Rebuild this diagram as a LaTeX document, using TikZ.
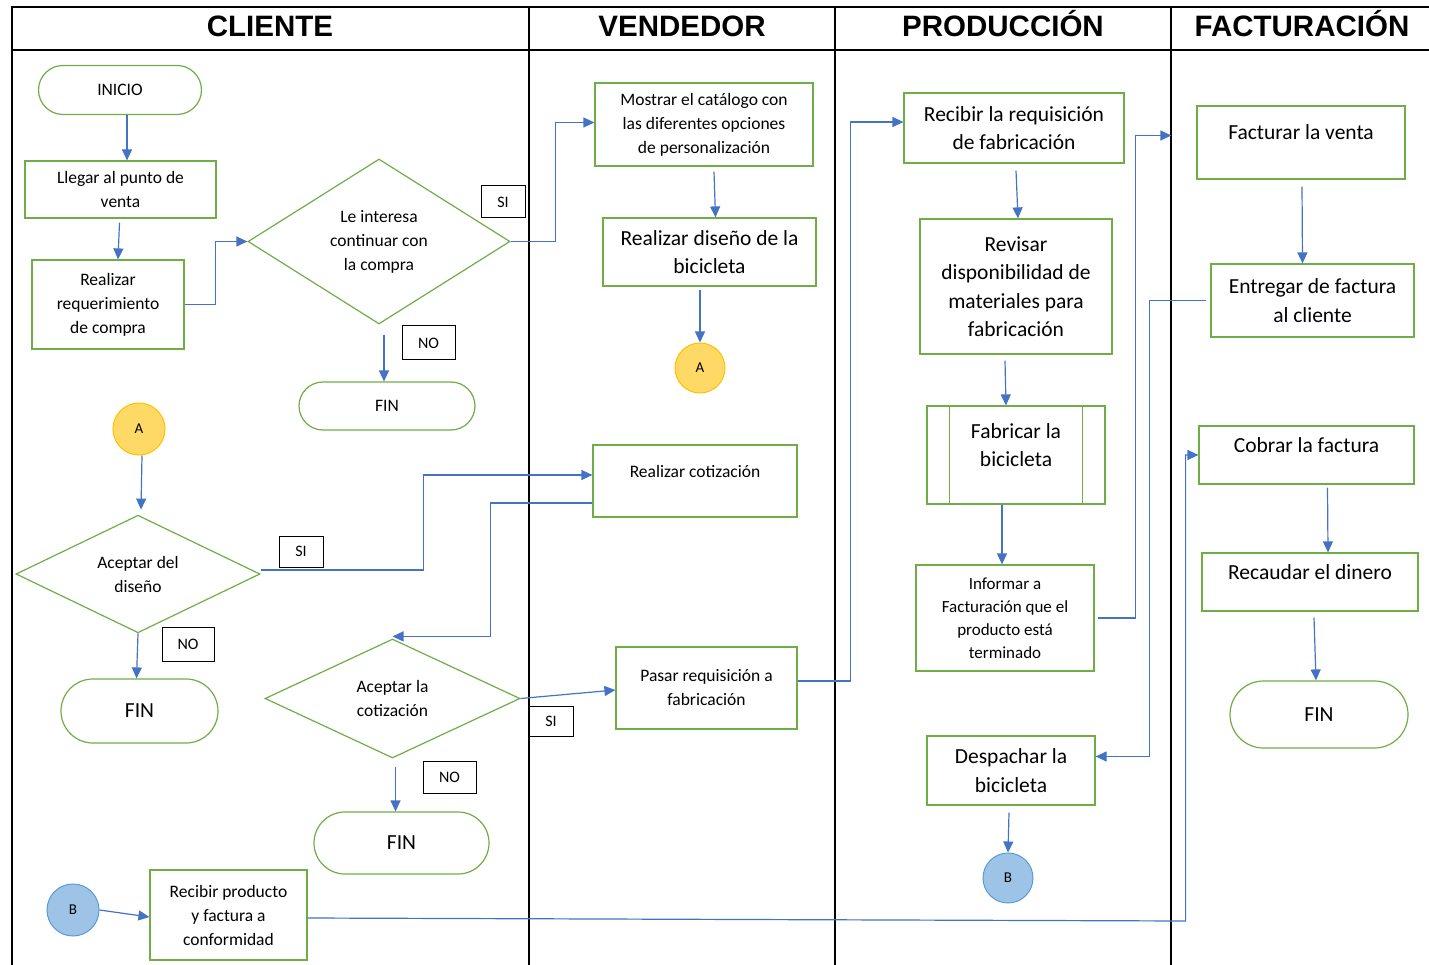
\documentclass[tikz,border=0pt]{standalone}
\usepackage{fontspec}
\setmainfont{Carlito}
\newfontfamily\laneFont{Liberation Sans}
\usetikzlibrary{shapes.geometric,shapes.misc,arrows.meta}
\definecolor{flowGreen}{RGB}{112,173,71}
\definecolor{flowBlue}{RGB}{68,114,196}
\definecolor{pageA}{RGB}{255,217,102}
\definecolor{pageAEdge}{RGB}{255,192,0}
\definecolor{pageB}{RGB}{157,195,230}
\definecolor{pageBEdge}{RGB}{91,155,213}

\begin{document}
\begin{tikzpicture}
% Swimlane flowchart, laid out in pixel units
\def\pxsz{1pt}
\providecommand{\laneLineWidth}{1.2pt}
\providecommand{\boxLineWidth}{1.2pt}
\providecommand{\smallTxt}{\fontsize{17.5}{24}\selectfont}
\providecommand{\bigTxt}{\fontsize{21.5}{28.5}\selectfont}
\begin{scope}[x=\pxsz, y=-\pxsz, line join=miter,
  lanehead/.style={anchor=base, font=\laneFont\bfseries\fontsize{29.5}{30}\selectfont},
  procbox/.style={draw=flowGreen, line width=\boxLineWidth, align=center, inner sep=0pt, font=\smallTxt},
  termbox/.style={procbox, shape=rounded rectangle},
  decbox/.style={procbox, shape=diamond},
  onpage/.style={circle, inner sep=0pt, line width=1pt, font=\fontsize{15}{16}\selectfont},
  tagbox/.style={draw=black, line width=1pt, inner sep=0pt, font=\fontsize{16}{17}\selectfont},
  raised/.style={text depth=20pt},
  flow/.style={draw=flowBlue, line width=1.2pt, -{Triangle[length=11pt,width=10pt]}}]
  \useasboundingbox (0,0) rectangle (1429,965);
  % Lanes
  \draw[line width=\laneLineWidth] (1429,7) -- (12,7) -- (12,965);
  \draw[line width=\laneLineWidth] (12,50) -- (1429,50);
  \foreach \lx in {529,835,1171}
    \draw[line width=\laneLineWidth] (\lx,7) -- (\lx,965);
  \node[lanehead] (hcli) at (270,37) {CLIENTE};
  \node[lanehead] (hven) at (682,37) {VENDEDOR};
  \node[lanehead] (hpro) at (1003,37) {PRODUCCIÓN};
  \node[lanehead] (hfac) at (1302,37) {FACTURACIÓN};

  % Cliente
  \node[termbox, minimum width=163pt, minimum height=49pt] (inicio) at (120,90) {INICIO};
  \node[procbox, minimum width=191pt, minimum height=57pt] (llegar) at (120.5,189.5) {Llegar al punto de\\venta};
  \node[procbox, minimum width=152pt, minimum height=89pt] (reqcompra) at (108,304.5) {Realizar\\requerimiento\\de compra};
  \node[decbox, minimum width=262pt, minimum height=165pt] (interesa) at (379,241.5) {Le interesa\\continuar con\\la compra};
  \node[tagbox, minimum width=44pt, minimum height=32pt] (si1) at (503,202) {SI};
  \node[tagbox, minimum width=53pt, minimum height=34pt] (no1) at (428.5,343) {NO};
  \node[termbox, minimum width=176pt, minimum height=48pt] (fin1) at (387,406) {FIN};
  \node[onpage, fill=pageA, draw=pageAEdge, minimum size=52pt] (a1) at (139,429) {A};
  \node[decbox, minimum width=244pt, minimum height=116pt] (aceptadis) at (138,574) {Aceptar del\\diseño};
  \node[tagbox, minimum width=44pt, minimum height=31pt] (si2) at (301,551.5) {SI};
  \node[tagbox, minimum width=52pt, minimum height=34pt] (no2) at (188,644) {NO};
  \node[termbox, minimum width=157pt, minimum height=64pt, font=\bigTxt] (fin2) at (139.5,711) {FIN};
  \node[decbox, minimum width=255pt, minimum height=119pt] (aceptacot) at (392.5,698.5) {Aceptar la\\cotización};
  \node[tagbox, minimum width=53pt, minimum height=32pt] (no3) at (449.5,777) {NO};
  \node[termbox, minimum width=175pt, minimum height=62pt, font=\bigTxt] (fin3) at (401.5,843) {FIN};
  \node[onpage, fill=pageB, draw=pageBEdge, minimum size=52pt] (b1) at (73,910) {B};
  \node[procbox, minimum width=157pt, minimum height=90pt] (recibprod) at (228.5,915) {Recibir producto\\y factura a\\conformidad};

  % Vendedor
  \node[procbox, minimum width=218pt, minimum height=83pt] (mostrar) at (704,124.5) {Mostrar el catálogo con\\las diferentes opciones\\de personalización};
  \node[procbox, minimum width=213pt, minimum height=68pt, font=\bigTxt] (disenobici) at (709.5,252) {Realizar diseño de la\\bicicleta};
  \node[onpage, fill=pageA, draw=pageAEdge, minimum size=50pt] (a2) at (700,368) {A};
  \node[procbox, raised, minimum width=204pt, minimum height=72pt] (cotiz) at (695,481) {Realizar cotización};
  \node[procbox, minimum width=181pt, minimum height=82pt] (pasar) at (706.5,688) {Pasar requisición a\\fabricación};
  \node[tagbox, minimum width=44pt, minimum height=30pt] (si3) at (551,721) {SI};

  % Produccion
  \node[procbox, minimum width=220pt, minimum height=70pt, font=\bigTxt] (recibreq) at (1014,128) {Recibir la requisición\\de fabricación};
  \node[procbox, minimum width=192pt, minimum height=135pt, font=\bigTxt] (revisar) at (1016,286.5) {Revisar\\disponibilidad de\\materiales para\\fabricación};
  \node[procbox, raised, minimum width=178pt, minimum height=98pt, font=\bigTxt] (fabricar) at (1016,455) {Fabricar la\\bicicleta};
  \draw[draw=flowGreen, line width=\boxLineWidth] ([xshift=23pt]fabricar.north west) -- ([xshift=23pt]fabricar.south west);
  \draw[draw=flowGreen, line width=\boxLineWidth] ([xshift=-23pt]fabricar.north east) -- ([xshift=-23pt]fabricar.south east);
  \node[procbox, minimum width=178pt, minimum height=106pt, font=\fontsize{17}{23}\selectfont] (informar) at (1005,618) {Informar a\\Facturación que el\\producto está\\terminado};
  \node[procbox, minimum width=168pt, minimum height=69pt, font=\bigTxt] (despachar) at (1011,770.5) {Despachar la\\bicicleta};
  \node[onpage, fill=pageB, draw=pageBEdge, minimum size=50pt] (b2) at (1008,878) {B};

  % Facturacion
  \node[procbox, raised, minimum width=208pt, minimum height=73pt, font=\bigTxt] (facturar) at (1301,142.5) {Facturar la venta};
  \node[procbox, minimum width=203pt, minimum height=73pt, font=\bigTxt] (entregar) at (1312.5,300.5) {Entregar de factura\\al cliente};
  \node[procbox, raised, minimum width=215pt, minimum height=58pt, font=\bigTxt] (cobrar) at (1306.5,455) {Cobrar la factura};
  \node[procbox, raised, minimum width=216pt, minimum height=58pt, font=\bigTxt] (recaudar) at (1310,582) {Recaudar el dinero};
  \node[termbox, minimum width=178pt, minimum height=67pt, font=\bigTxt] (fin4) at (1319,714.5) {FIN};

  % Connectors
  \draw[flow] ([xshift=7pt]inicio.south) -- ([xshift=7pt]inicio.south |- llegar.north);
  \draw[flow] ([xshift=-1pt,yshift=-4pt]llegar.south) -- ([xshift=10pt]reqcompra.north);
  \draw[flow] (reqcompra.east) -- ++(31,0) |- (interesa.west);
  \draw[flow] (interesa.east) -- ++(45,0) |- ([yshift=2pt]mostrar.west);
  \draw[flow] ([shift={(5pt,-10pt)}]interesa.south) -- ([xshift=5pt]interesa.south |- fin1.north);
  \draw[flow] ([shift={(10pt,-5pt)}]mostrar.south) -- ([xshift=6pt]disenobici.north);
  \draw[flow] ([yshift=-3pt]a2.north |- disenobici.south) -- (a2.north);
  \draw[flow] ([xshift=3pt]a1.south) -- ([xshift=3pt,yshift=5pt]aceptadis.north);
  \draw[flow] ([yshift=4pt]aceptadis.east) -- ++(163,0) |- ([yshift=6pt]cotiz.west);
  \draw[flow] (aceptadis.south) -- ([xshift=-3pt]fin2.north);
  \draw[flow] ([yshift=-22pt]cotiz.west) -- ++(-102,0) |- ([yshift=2pt]aceptacot.north);
  \draw[flow] (aceptacot.east) -- ([yshift=-2pt]pasar.west);
  \draw[flow] ([shift={(3pt,-8pt)}]aceptacot.south) -- ([xshift=3pt]aceptacot.south |- fin3.north);
  \draw[flow] ([yshift=7pt]pasar.east) -- ++(53,0) |- ([yshift=6pt]recibreq.west);
  \draw[flow] ([shift={(2pt,-7pt)}]recibreq.south) -- ([xshift=2pt]revisar.north);
  \draw[flow] ([shift={(-11pt,-6pt)}]revisar.south) -- ([xshift=-10pt]fabricar.north);
  \draw[flow] ([xshift=-14pt]fabricar.south) -- ([xshift=-3pt]informar.north);
  \draw[flow] ([xshift=3pt]informar.east) -- ++(38,0) |- ([shift={(-25pt,7pt)}]facturar.west);
  \draw[flow] ([shift={(1pt,-7pt)}]facturar.south) -- ([xshift=-10pt]entregar.north);
  \draw[flow] ([xshift=-4pt]entregar.west) -- ++(-57,0) |- ([yshift=14pt]despachar.east);
  \draw[flow] ([shift={(-2pt,-7pt)}]despachar.south) -- (b2.north);
  \draw[flow] (b1.east) -- ([yshift=-2pt]recibprod.west);
  \draw[flow] ([yshift=-3pt]recibprod.east) -- ++(878,3) |- (cobrar.west);
  \draw[flow] ([shift={(21pt,-3pt)}]cobrar.south) -- ([xshift=18pt]recaudar.north);
  \draw[flow] ([shift={(4pt,-6pt)}]recaudar.south) -- ([xshift=-3pt]fin4.north);
\end{scope}
\end{tikzpicture}
\end{document}
